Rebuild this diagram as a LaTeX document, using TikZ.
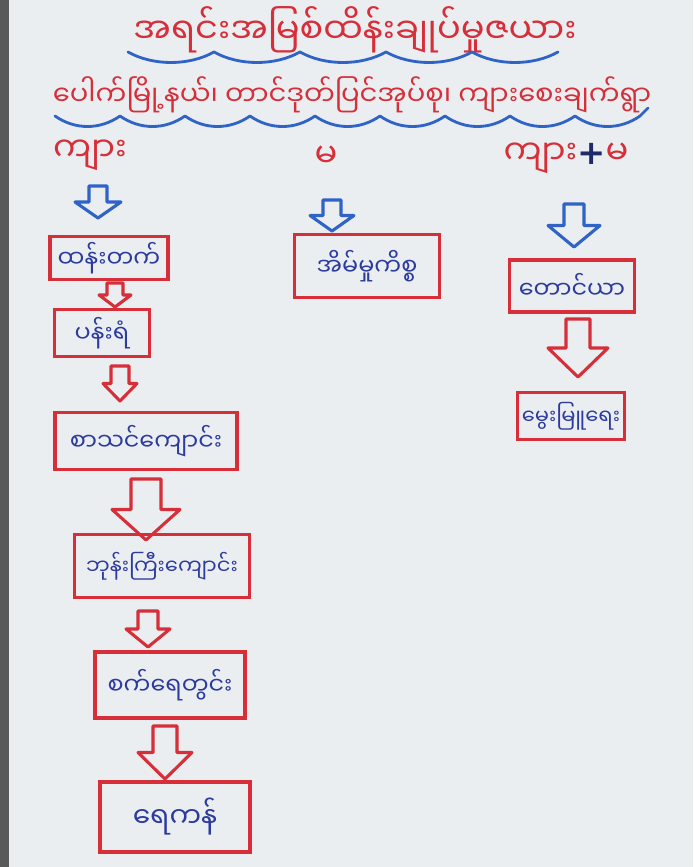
\documentclass[tikz,border=0pt]{standalone}
\usepackage{fontspec}
\newfontfamily\mmfont[Script=Myanmar]{Noto Sans Myanmar UI}
\newfontfamily\plusfont{DejaVu Sans}

\definecolor{paper}{HTML}{EBEEF1}
\definecolor{penred}{HTML}{D62F3A}
\definecolor{penblue}{HTML}{2C3B9E}
\definecolor{arrowblue}{HTML}{2F63C6}
\definecolor{navy}{HTML}{1F2A6B}

% hollow block arrow pointing down: colour, x, top, bottom, half shaft, half head
\newcommand\fatarrow[6]{%
  \draw[#1, line width=2.2pt, line join=round]
    ({#2-#5},#3) -- ({#2+#5},#3) -- ({#2+#5},{(#3+#4)/2}) -- ({#2+#6},{(#3+#4)/2})
    -- (#2,#4) -- ({#2-#6},{(#3+#4)/2}) -- ({#2-#5},{(#3+#4)/2}) -- cycle;}

\begin{document}
\begin{tikzpicture}[x=0.025cm, y=-0.025cm]
  \tikzstyle{card} = [draw=penred, line width=2.2pt, inner sep=0pt, text=penblue,
                      font=\mmfont\fontsize{17}{20}\selectfont]
  \tikzstyle{head} = [text=penred, font=\mmfont\fontsize{24}{28}\selectfont]
  \tikzstyle{title} = [text=penred, font=\mmfont\fontsize{19.5}{22}\selectfont]
  \tikzstyle{wave} = [draw=arrowblue, line width=2pt, line cap=round, line join=round]

  % paper
  \fill[paper] (0,0) rectangle (693,867);
  \fill[black!65] (0,0) rectangle (9,867);
  \useasboundingbox (0,0) rectangle (693,867);

  % heading lines
  \node[title, font=\mmfont\fontsize{25}{28}\selectfont] (topic) at (355,30) {အရင်းအမြစ်ထိန်းချုပ်မှုဇယား};
  \node[title] (place) at (352,95) {ပေါက်မြို့နယ်၊ တာင်ဒုတ်ပြင်အုပ်စု၊ ကျားစေးချက်ရွာ};
  \draw[wave] (128,52) foreach \k in {1,...,5} { .. controls +(25,14) and +(-25,14) .. ++(86,0) };
  \draw[wave] (55,116) foreach \k in {1,...,9} { .. controls +(20,14) and +(-20,14) .. ++(65,0) }
    -- ++(8,-8);

  % column titles
  \node[head] (male) at (90,155) {ကျား};
  \node[head] (female) at (326,157) {မ};
  \node[head] (both) at (566,158) {ကျား{\plusfont\bfseries\color{navy}+}မ};

  % male column
  \fatarrow{arrowblue}{98}{186}{218}{9}{23}
  \node[card, minimum width=2.95cm, minimum height=1.075cm] (climb) at (109,258) {ထန်းတက်};
  \fatarrow{penred}{115}{283}{307}{8}{16}
  \node[card, minimum width=2.375cm, minimum height=1.175cm] (mason) at (102,333) {ပန်းရံ};
  \fatarrow{penred}{120}{366}{401}{9}{17}
  \node[card, minimum width=4.55cm, minimum height=1.425cm] (school) at (146,441) {စာသင်ကျောင်း};
  \fatarrow{penred}{146}{479}{540}{15}{34}
  \node[card, minimum width=4.375cm, minimum height=1.575cm,
        font=\mmfont\fontsize{15}{18}\selectfont] (monastery) at (162,566) {ဘုန်းကြီးကျောင်း};
  \fatarrow{penred}{148}{611}{647}{10}{22}
  \node[card, minimum width=3.75cm, minimum height=1.65cm] (well) at (170,685) {စက်ရေတွင်း};
  \fatarrow{penred}{165}{726}{779}{12}{27}
  \node[card, minimum width=3.75cm, minimum height=1.75cm,
        font=\mmfont\fontsize{20}{24}\selectfont] (pond) at (175,817) {ရေကန်};

  % female column
  \fatarrow{arrowblue}{332}{200}{231}{9}{22}
  \node[card, minimum width=3.625cm, minimum height=1.575cm] (home) at (367,266) {အိမ်မှုကိစ္စ};

  % male and female column
  \fatarrow{arrowblue}{574}{204}{247}{10}{26}
  \node[card, minimum width=3.125cm, minimum height=1.3cm] (farm) at (572,286) {တောင်ယာ};
  \fatarrow{penred}{578}{319}{377}{12}{30}
  \node[card, minimum width=2.675cm, minimum height=1.175cm,
        font=\mmfont\fontsize{15}{18}\selectfont] (stock) at (571,416) {မွေးမြူရေး};
\end{tikzpicture}
\end{document}
